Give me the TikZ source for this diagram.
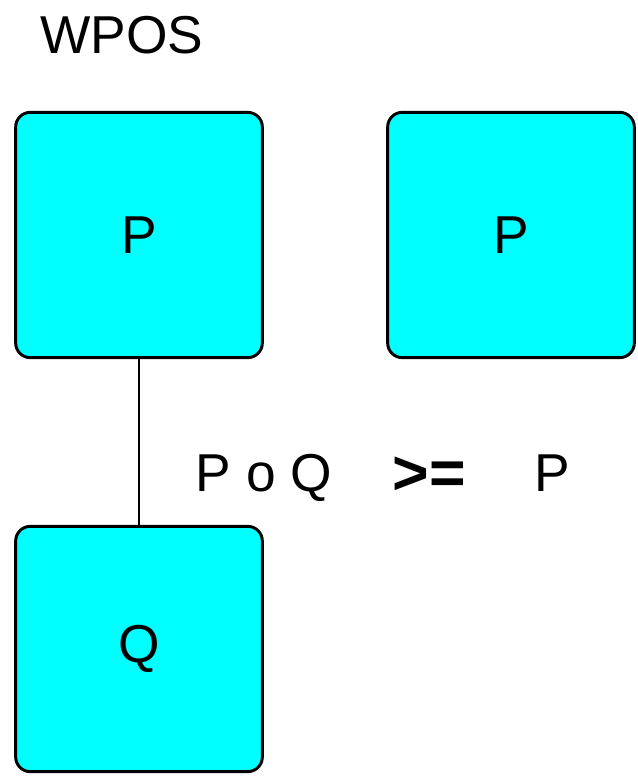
\documentclass[tikz,border=0pt]{standalone}
\usepackage{fontspec}
\setmainfont{Liberation Sans}
\usepackage{tikz}

\definecolor{boxcyan}{RGB}{0,255,255}
\tikzset{
    procbox/.style={draw, line width=2.2pt, fill=boxcyan, rounded corners=11pt,
        minimum width=185pt, minimum height=184pt, inner sep=0pt, font=\fontsize{40}{48}\selectfont},
    lbl/.style={anchor=base, inner sep=0pt, font=\fontsize{40}{48}\selectfont}
}

\begin{document}
\begin{tikzpicture}[x=0.75pt, y=-0.75pt]
    \useasboundingbox (0,0) rectangle (638,782);
    \node[lbl, anchor=base west] (title) at (40,53) {WPOS};

    \node[procbox] (p1) at (139,235) {P};
    \node[procbox] (p2) at (511,235) {P};
    \node[procbox] (q) at (139,649) {Q};
    \draw[line width=0.8pt] (p1) -- (q);

    \node[lbl] (comp) at (264,491) {P o Q};
    \node[lbl, font=\fontsize{47}{56}\selectfont\bfseries] (geq) at (429,494) {>=};
    \node[lbl] (rhs) at (552,491) {P};
\end{tikzpicture}
\end{document}
